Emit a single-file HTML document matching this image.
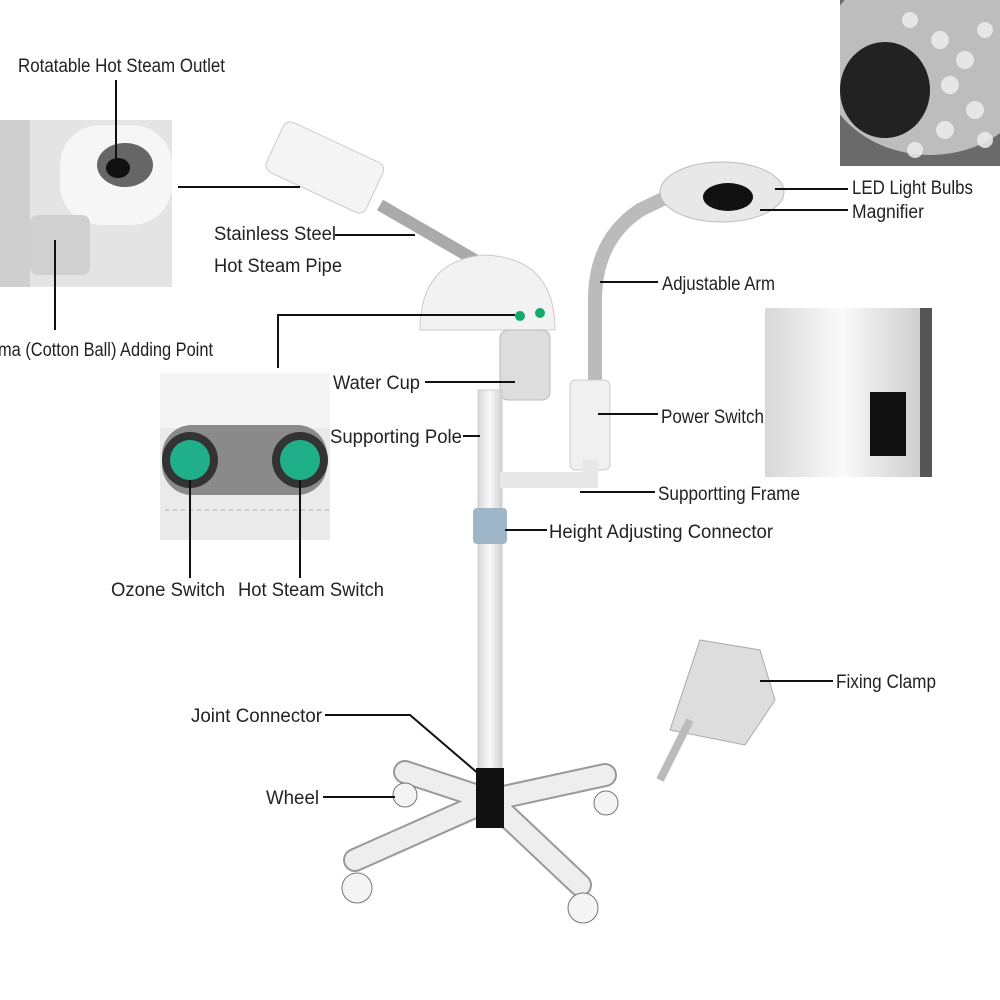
<!DOCTYPE html>
<html><head><meta charset="utf-8"><style>
html,body{margin:0;padding:0;background:#fff;}
svg{display:block}
text{font-family:"Liberation Sans",sans-serif;font-size:19px;fill:#222;}
</style></head><body>
<svg width="1000" height="1000" viewBox="0 0 1000 1000" xmlns="http://www.w3.org/2000/svg">
<defs>
<linearGradient id="g1" x1="0" x2="1"><stop offset="0" stop-color="#d8d8d8"/><stop offset="0.5" stop-color="#fafafa"/><stop offset="1" stop-color="#cfcfcf"/></linearGradient>
<clipPath id="tr"><rect x="840" y="0" width="160" height="166"/></clipPath>
</defs>
<rect width="1000" height="1000" fill="#fff"/>

<!-- top-right inset -->
<g clip-path="url(#tr)">
<rect x="840" y="0" width="160" height="166" fill="#6a6a6a"/>
<ellipse cx="930" cy="60" rx="110" ry="95" fill="#bdbdbd"/>
<ellipse cx="885" cy="90" rx="45" ry="48" fill="#222"/>
<g fill="#eee" opacity="0.85">
<circle cx="940" cy="40" r="9"/><circle cx="965" cy="60" r="9"/><circle cx="950" cy="85" r="9"/><circle cx="975" cy="110" r="9"/><circle cx="945" cy="130" r="9"/><circle cx="915" cy="150" r="8"/><circle cx="985" cy="140" r="8"/><circle cx="910" cy="20" r="8"/><circle cx="985" cy="30" r="8"/>
</g>
</g>

<!-- left inset -->
<rect x="0" y="120" width="172" height="167" fill="#e4e4e4"/>
<rect x="60" y="125" width="112" height="100" rx="40" fill="#f6f6f6"/>
<ellipse cx="125" cy="165" rx="28" ry="22" fill="#666"/>
<ellipse cx="118" cy="168" rx="12" ry="10" fill="#111"/>
<rect x="30" y="215" width="60" height="60" rx="8" fill="#d0d0d0"/>
<rect x="0" y="120" width="30" height="167" fill="#cfcfcf"/>

<!-- control panel inset -->
<rect x="160" y="373" width="170" height="167" fill="#eaeaea"/>
<rect x="160" y="373" width="170" height="55" fill="#f4f4f4"/>
<rect x="162" y="425" width="165" height="70" rx="30" fill="#8a8a8a"/>
<circle cx="190" cy="460" r="28" fill="#333"/><circle cx="190" cy="460" r="20" fill="#1fb08a"/>
<circle cx="300" cy="460" r="28" fill="#333"/><circle cx="300" cy="460" r="20" fill="#1fb08a"/>
<line x1="165" y1="510" x2="330" y2="510" stroke="#aaa" stroke-dasharray="4 4"/>

<!-- power switch inset -->
<rect x="765" y="308" width="167" height="169" fill="#555"/>
<rect x="765" y="308" width="155" height="169" fill="url(#g1)"/>
<rect x="870" y="392" width="36" height="64" fill="#111"/>

<!-- steam pipe -->
<line x1="380" y1="205" x2="475" y2="260" stroke="#aaa" stroke-width="12"/>
<rect x="270" y="140" width="110" height="55" rx="8" fill="#f4f4f4" stroke="#ccc" transform="rotate(25 325 167)"/>
<!-- head -->
<path d="M420 330 Q420 260 485 255 Q555 258 555 330 Z" fill="#f2f2f2" stroke="#ccc"/>
<circle cx="520" cy="316" r="5" fill="#1a6"/><circle cx="540" cy="313" r="5" fill="#1a6"/>
<rect x="500" y="330" width="50" height="70" rx="8" fill="#ddd" stroke="#bbb"/>
<!-- pole -->
<rect x="478" y="390" width="24" height="380" fill="url(#g1)" stroke="#ccc"/>
<rect x="473" y="508" width="34" height="36" rx="4" fill="#9fb5c8"/>
<!-- base -->
<g stroke="#999" stroke-width="24" stroke-linecap="round">
<line x1="490" y1="800" x2="355" y2="860"/><line x1="490" y1="800" x2="405" y2="772"/>
<line x1="490" y1="800" x2="605" y2="775"/><line x1="490" y1="800" x2="580" y2="885"/>
</g>
<g stroke="#eee" stroke-width="20" stroke-linecap="round">
<line x1="490" y1="800" x2="355" y2="860"/><line x1="490" y1="800" x2="405" y2="772"/>
<line x1="490" y1="800" x2="605" y2="775"/><line x1="490" y1="800" x2="580" y2="885"/>
</g>
<rect x="476" y="768" width="28" height="60" fill="#111"/>
<g fill="#f4f4f4" stroke="#777"><circle cx="357" cy="888" r="15"/><circle cx="405" cy="795" r="12"/><circle cx="606" cy="803" r="12"/><circle cx="583" cy="908" r="15"/></g>
<!-- arm -->
<path d="M595 385 L595 300 Q595 240 640 210 L665 198" fill="none" stroke="#bbb" stroke-width="14"/>
<rect x="570" y="380" width="40" height="90" rx="6" fill="#f0f0f0" stroke="#ccc"/>
<path d="M500 480 L590 480 L590 460" fill="none" stroke="#e8e8e8" stroke-width="16"/>
<ellipse cx="722" cy="192" rx="62" ry="30" fill="#e8e8e8" stroke="#bbb"/>
<ellipse cx="728" cy="197" rx="25" ry="14" fill="#111"/>
<!-- clamp -->
<path d="M700 640 L760 650 L775 700 L745 745 L670 730 Z" fill="#ddd" stroke="#aaa"/>
<line x1="690" y1="720" x2="660" y2="780" stroke="#bbb" stroke-width="8"/>

<!-- lines -->
<g stroke="#111" stroke-width="2" fill="none">
<line x1="116" y1="80" x2="116" y2="170"/>
<line x1="178" y1="187" x2="300" y2="187"/>
<line x1="335" y1="235" x2="415" y2="235"/>
<line x1="55" y1="240" x2="55" y2="330"/>
<line x1="775" y1="189" x2="848" y2="189"/>
<line x1="760" y1="210" x2="848" y2="210"/>
<line x1="600" y1="282" x2="658" y2="282"/>
<polyline points="278,368 278,315 515,315"/>
<line x1="425" y1="382" x2="515" y2="382"/>
<line x1="598" y1="414" x2="658" y2="414"/>
<line x1="463" y1="436" x2="480" y2="436"/>
<line x1="580" y1="492" x2="655" y2="492"/>
<line x1="505" y1="530" x2="547" y2="530"/>
<line x1="190" y1="480" x2="190" y2="578"/>
<line x1="300" y1="480" x2="300" y2="578"/>
<line x1="760" y1="681" x2="833" y2="681"/>
<polyline points="325,715 410,715 480,775"/>
<line x1="323" y1="797" x2="395" y2="797"/>
</g>

<g>
<text x="18" y="72" textLength="207" lengthAdjust="spacingAndGlyphs">Rotatable Hot Steam Outlet</text>
<text x="214" y="240" textLength="122" lengthAdjust="spacingAndGlyphs">Stainless Steel</text>
<text x="214" y="272" textLength="128" lengthAdjust="spacingAndGlyphs">Hot Steam Pipe</text>
<text x="-2" y="356" textLength="215" lengthAdjust="spacingAndGlyphs">ma (Cotton Ball) Adding Point</text>
<text x="852" y="194" textLength="121" lengthAdjust="spacingAndGlyphs">LED Light Bulbs</text>
<text x="852" y="218" textLength="72" lengthAdjust="spacingAndGlyphs">Magnifier</text>
<text x="662" y="290" textLength="113" lengthAdjust="spacingAndGlyphs">Adjustable Arm</text>
<text x="333" y="389" textLength="87" lengthAdjust="spacingAndGlyphs">Water Cup</text>
<text x="661" y="423" textLength="103" lengthAdjust="spacingAndGlyphs">Power Switch</text>
<text x="330" y="443" textLength="132" lengthAdjust="spacingAndGlyphs">Supporting Pole</text>
<text x="658" y="500" textLength="142" lengthAdjust="spacingAndGlyphs">Supportting Frame</text>
<text x="549" y="538" textLength="224" lengthAdjust="spacingAndGlyphs">Height Adjusting Connector</text>
<text x="111" y="596" textLength="114" lengthAdjust="spacingAndGlyphs">Ozone Switch</text>
<text x="238" y="596" textLength="146" lengthAdjust="spacingAndGlyphs">Hot Steam Switch</text>
<text x="836" y="688" textLength="100" lengthAdjust="spacingAndGlyphs">Fixing Clamp</text>
<text x="191" y="722" textLength="131" lengthAdjust="spacingAndGlyphs">Joint Connector</text>
<text x="266" y="804" textLength="53" lengthAdjust="spacingAndGlyphs">Wheel</text>
</g>
</svg>
</body></html>
